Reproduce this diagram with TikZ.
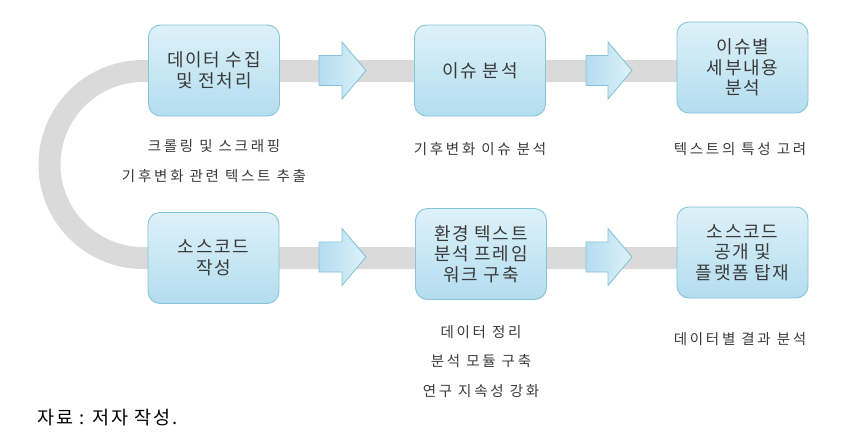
\documentclass[tikz,border=0pt]{standalone}
\usepackage{fontspec}
\setmainfont{Noto Sans CJK KR}
\newfontfamily\boxfont{Noto Sans CJK KR}[LetterSpace=9]
\newfontfamily\notefont{Noto Sans CJK KR}[LetterSpace=19]
\newfontfamily\srcfont{Noto Sans CJK KR}[LetterSpace=10]
\definecolor{band}{HTML}{DADADA}
\definecolor{boxedge}{HTML}{86C3D8}
\definecolor{boxlight}{HTML}{DDF1F9}
\definecolor{boxdark}{HTML}{B3DDEF}
\definecolor{txt}{HTML}{3A3A3A}
\begin{document}
\begin{tikzpicture}[x=1pt,y=-1pt,
  stepbox/.style={draw=boxedge, line width=0.9pt, rounded corners=12pt,
    top color=boxlight, bottom color=boxdark, minimum width=131pt, minimum height=91pt,
    align=center, text=txt, font={\boxfont\fontsize{18}{20.5}\selectfont}, inner sep=2pt},
  note/.style={align=center, text=txt, font={\notefont\fontsize{14.5}{29.5}\selectfont}, anchor=north},
  blockarrow/.style={draw=boxedge, line width=0.9pt, left color=boxdark, right color=boxlight, line join=miter},
  bandline/.style={draw=band, line width=22pt}]
\useasboundingbox (0,0) rectangle (859,445);
% band coordinates
\coordinate (t1) at (143,71);
\coordinate (te) at (700,71);
\coordinate (be) at (700,258);
% band behind everything
\path[bandline] (te) -- (t1) arc[start angle=90, end angle=270, radius=93.5pt] -- (be);
% step boxes
\node[stepbox] (b1) at (214,70.5) {데이터 수집\\및 전처리};
\node[stepbox] (b2) at (480,70.5) {이슈 분석};
\node[stepbox] (b3) at (742.5,67.5) {이슈별\\세부내용\\분석};
\node[stepbox] (b4) at (213.5,258) {소스코드\\작성};
\node[stepbox] (b5) at (481,254) {환경 텍스트\\분석 프레임\\워크 구축};
\node[stepbox] (b6) at (742.5,252.5) {소스코드\\공개 및\\플랫폼 탑재};
% block arrows
\path[blockarrow] (319,55.5) -- (342,55.5) -- (342,42) -- (366,70.5) -- (342,99) -- (342,85.5) -- (319,85.5) -- cycle;
\path[blockarrow] (586,55.5) -- (608,55.5) -- (608,42) -- (632,70.5) -- (608,99) -- (608,85.5) -- (586,85.5) -- cycle;
\path[blockarrow] (319,242) -- (342,242) -- (342,228.5) -- (366,257) -- (342,285.5) -- (342,272) -- (319,272) -- cycle;
\path[blockarrow] (586,242) -- (608,242) -- (608,228.5) -- (632,257) -- (608,285.5) -- (608,272) -- (586,272) -- cycle;
% notes
\node[note] (n1) at (214,136) {크롤링 및 스크래핑\\기후변화 관련 텍스트 추출};
\node[note] (n2) at (480,138.5) {기후변화 이슈 분석};
\node[note] (n3) at (740,138.5) {텍스트의 특성 고려};
\node[note] (n5) at (481,321.5) {데이터 정리\\분석 모듈 구축\\연구 지속성 강화};
\node[note] (n6) at (740,329) {데이터별 결과 분석};
\node[anchor=west, text=black, font={\srcfont\fontsize{18.5}{20}\selectfont}] (src) at (34,418) {자료 : 저자 작성.};
\end{tikzpicture}
\end{document}
